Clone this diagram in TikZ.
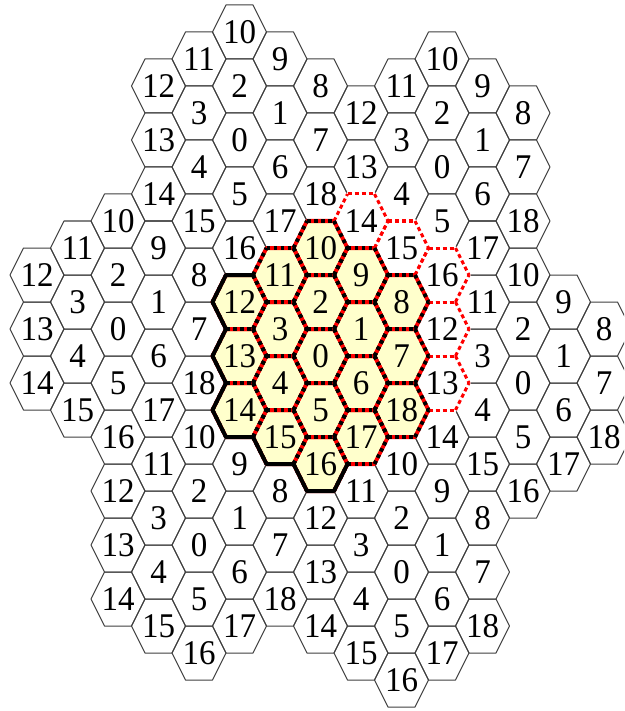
\documentclass[tikz,border=0pt]{standalone}
\usepackage{fontspec}
\setmainfont{Liberation Serif}
\newfontfamily\cellfont{Liberation Serif}
\definecolor{cellfill}{HTML}{FFFFCC}
\definecolor{gridgray}{HTML}{404040}
\newcommand\hexfill[3]{\path[#1] (#2-27,#3) -- (#2-13.5,#3-27) -- (#2+13.5,#3-27) -- (#2+27,#3) -- (#2+13.5,#3+27) -- (#2-13.5,#3+27) -- cycle;}
\newcommand\hexsides[3]{%
  \draw[#1] (#2-27,#3) -- (#2-13.5,#3-27);
  \draw[#1] (#2-27,#3) -- (#2-13.5,#3+27);
  \draw[#1] (#2-13.5,#3-27) -- (#2+13.5,#3-27);
  \draw[#1] (#2-13.5,#3+27) -- (#2+13.5,#3+27);
  \draw[#1] (#2+13.5,#3-27) -- (#2+27,#3);
  \draw[#1] (#2+13.5,#3+27) -- (#2+27,#3);}
\def\clusterlist{7/12, 5/4, 10/5, 12/13, 2/11, 4/19, 9/20}
\def\offsetlist{0/0/0, 1/-1/1, 0/-2/2, -1/-1/3, -1/1/4, 0/2/5, 1/1/6, 2/0/7, 2/-2/8, 1/-3/9, 0/-4/10, -1/-3/11, -2/-2/12, -2/0/13, -2/2/14, -1/3/15, 0/4/16, 1/3/17, 2/2/18}
\begin{document}
\begin{tikzpicture}[x=1pt,y=-1pt,
  gridline/.style={draw=gridgray, line width=1pt, line join=round},
  lbl/.style={font=\cellfont\fontsize{33}{33}\selectfont, inner sep=0pt},
  redbase/.style={draw=red, line width=4pt, line join=round},
  blackdash/.style={draw=black, line width=4pt, dash pattern=on 3.5pt off 3.5pt},
  whitebase/.style={draw=white, line width=3.5pt, line join=round},
  reddash/.style={draw=red, line width=3pt, dash pattern=on 4pt off 3pt},
  boundary/.style={draw=black, line width=4pt, line join=round, line cap=round}]
\useasboundingbox (0,0) rectangle (624,711);
\clip (0,0) rectangle (624,711);
\fill[white] (0,0) rectangle (624,711);
% yellow fill of the central cluster
\foreach \dk/\dm/\lab in \offsetlist {
  \pgfmathsetmacro\X{37+40.5*(7+\dk)}
  \pgfmathsetmacro\Y{32+27*(12+\dm)}
  \hexfill{fill=cellfill}{\X}{\Y}
}
% thin grid
\foreach \ck/\cm in \clusterlist {
  \foreach \dk/\dm/\lab in \offsetlist {
    \pgfmathsetmacro\X{37+40.5*(\ck+\dk)}
    \pgfmathsetmacro\Y{32+27*(\cm+\dm)}
    \hexfill{gridline}{\X}{\Y}
  }
}
% red dashed neighbour cells
\foreach \k/\m in {8/7, 9/8, 10/9, 10/11, 10/13} {
  \pgfmathsetmacro\X{37+40.5*\k}
  \pgfmathsetmacro\Y{32+27*\m}
  \hexfill{whitebase}{\X}{\Y}
}
\foreach \k/\m in {8/7, 9/8, 10/9, 10/11, 10/13} {
  \pgfmathsetmacro\X{37+40.5*\k}
  \pgfmathsetmacro\Y{32+27*\m}
  \hexsides{reddash}{\X}{\Y}
}
% central cluster red/black borders
\foreach \dk/\dm/\lab in \offsetlist {
  \pgfmathsetmacro\X{37+40.5*(7+\dk)}
  \pgfmathsetmacro\Y{32+27*(12+\dm)}
  \hexfill{redbase}{\X}{\Y}
}
\foreach \dk/\dm/\lab in \offsetlist {
  \pgfmathsetmacro\X{37+40.5*(7+\dk)}
  \pgfmathsetmacro\Y{32+27*(12+\dm)}
  \hexsides{blackdash}{\X}{\Y}
}
% thick black outer boundary
\draw[boundary] (253,275) -- (226,275) -- (212.5,302) -- (226,329) -- (212.5,356)
  -- (226,383) -- (212.5,410) -- (226,437) -- (253,437) -- (266.5,464)
  -- (293.5,464) -- (307,491) -- (334,491) -- (347.5,464);
% labels
\foreach \ck/\cm in \clusterlist {
  \foreach \dk/\dm/\lab in \offsetlist {
    \pgfmathsetmacro\X{37+40.5*(\ck+\dk)}
    \pgfmathsetmacro\Y{32+27*(\cm+\dm)}
    \node[lbl] (c\ck-\cm-\lab) at (\X,\Y) {\scalebox{1}[1.05]{\lab}};
  }
}
\end{tikzpicture}
\end{document}
